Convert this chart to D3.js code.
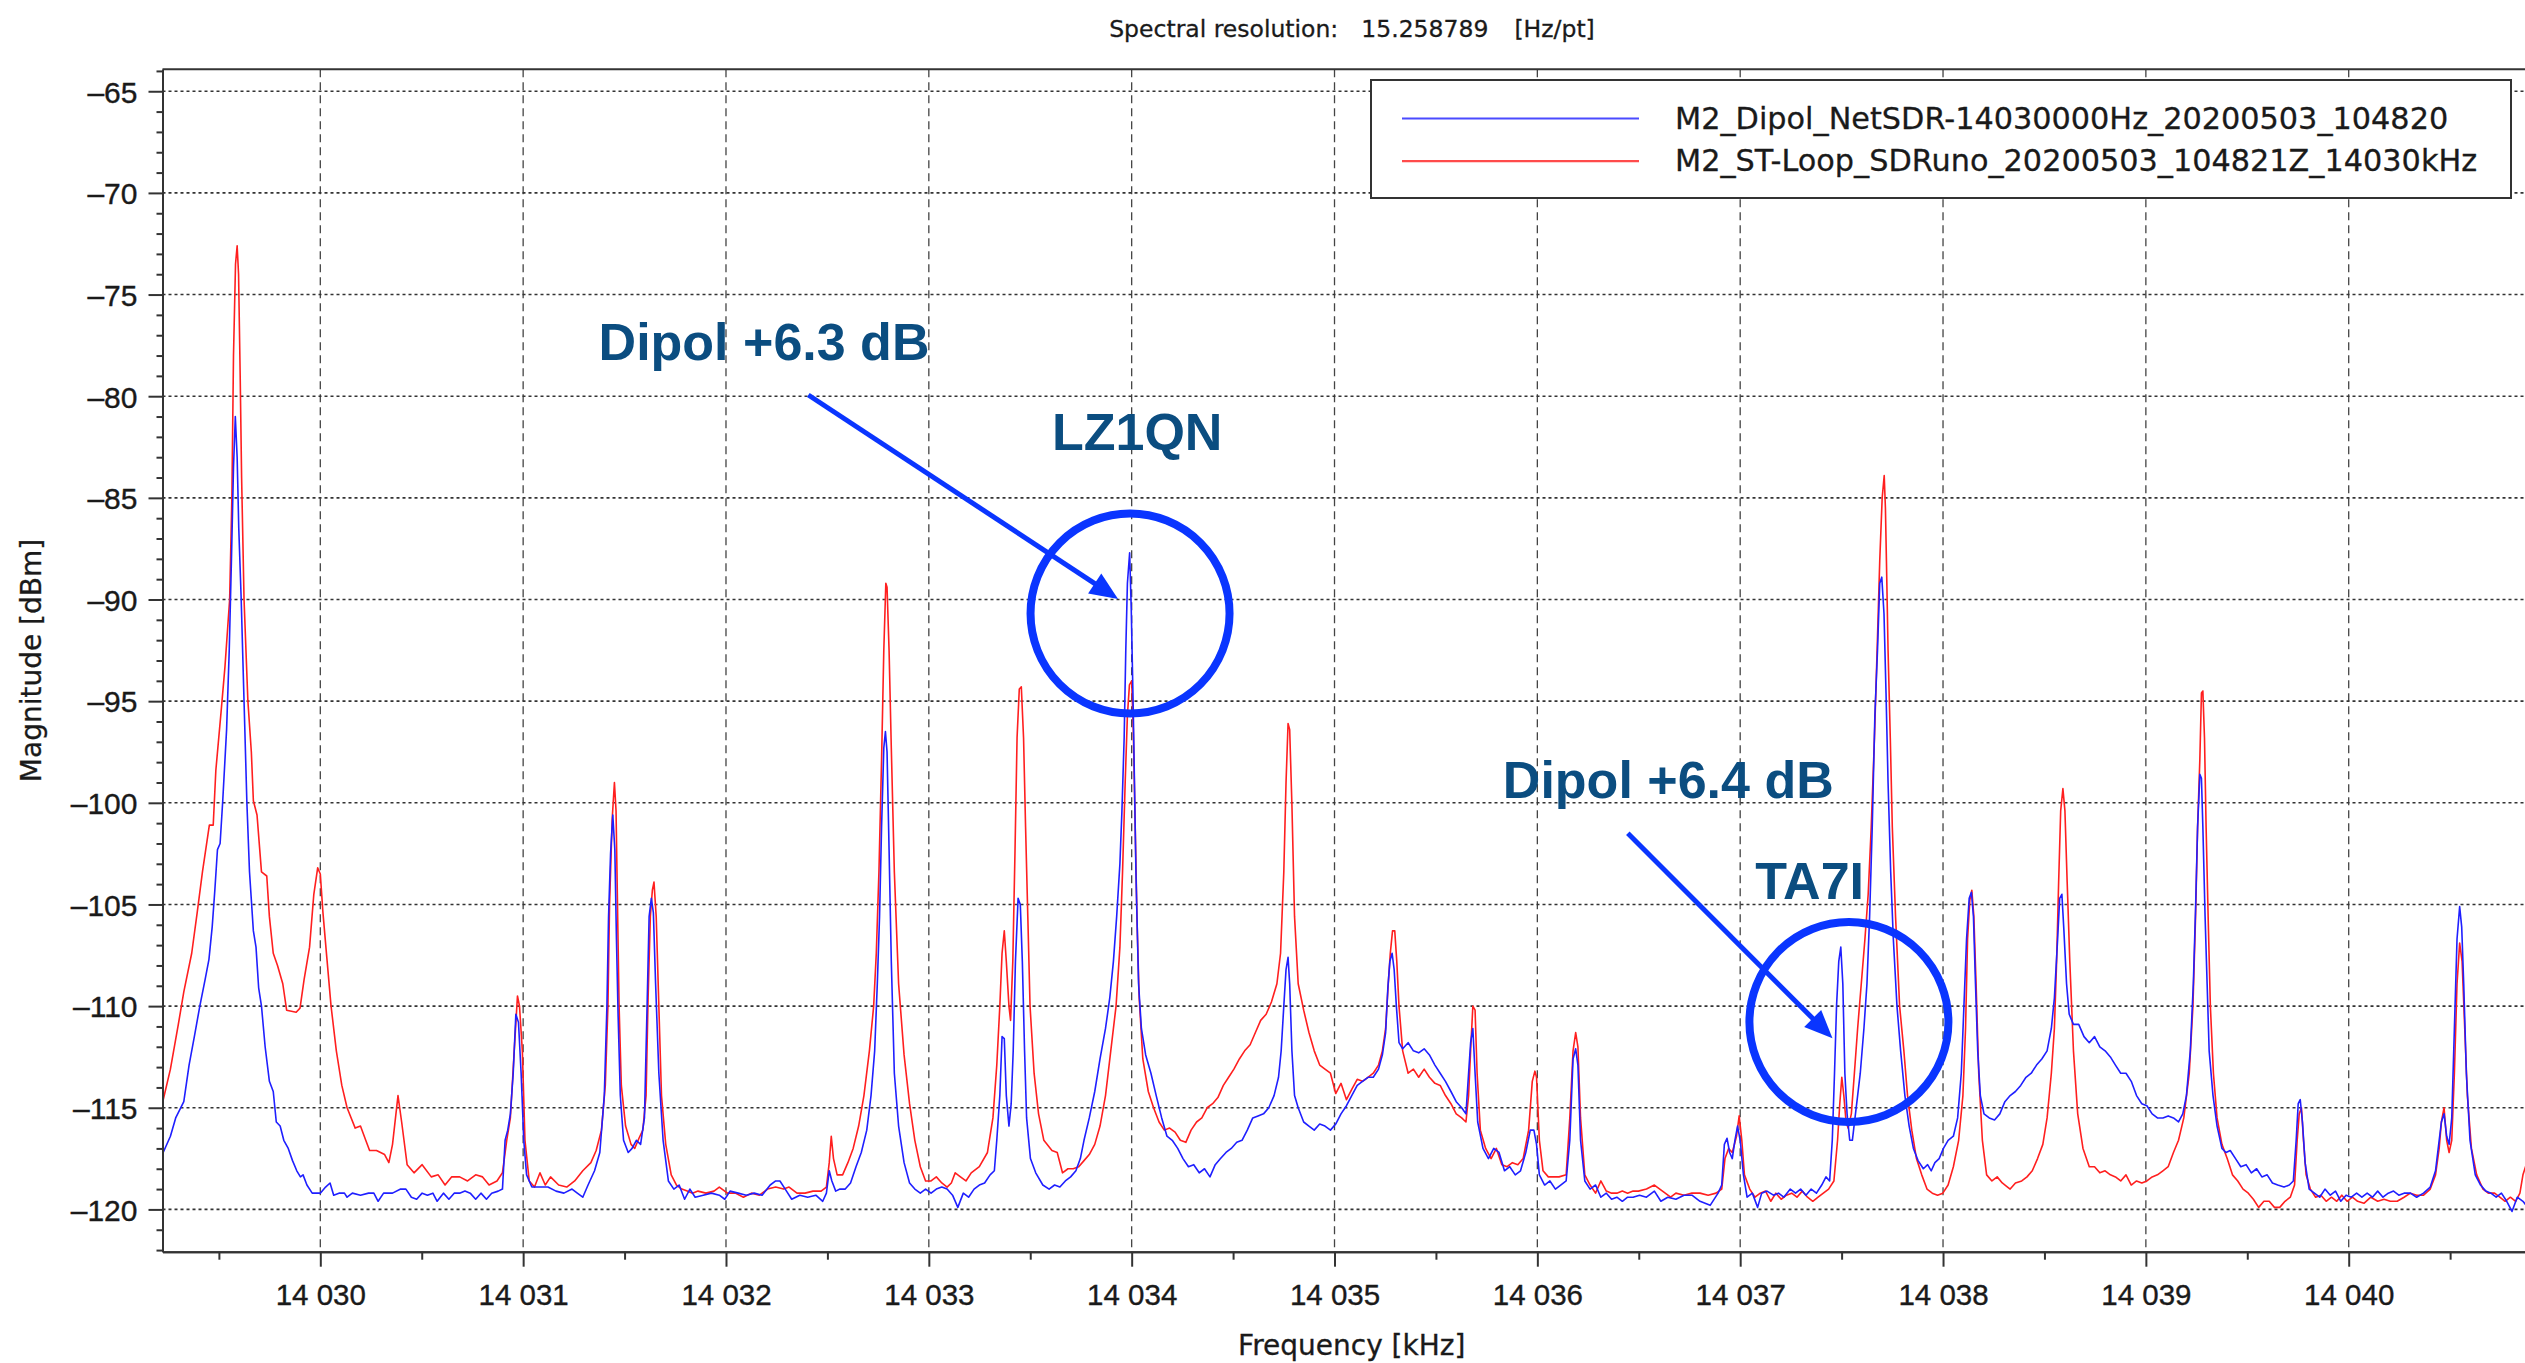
<!DOCTYPE html>
<html lang="en">
<head>
<meta charset="UTF-8">
<title>Spectrum comparison 14030 kHz</title>
<script src="https://d3js.org/d3.v7.min.js"></script>
<style>
  body { margin: 0; background: #fff; }
  svg { display: block; font-family: "DejaVu Sans", sans-serif; }
  .axis text { fill: #1a1a1a; font-size: 29.5px; stroke: #1a1a1a; stroke-width: 0.35; }
  .axis path, .axis line { stroke: #333; stroke-width: 2; }
  .grid-h { stroke: #333; stroke-width: 1.6; stroke-dasharray: 3 3; }
  .grid-v { stroke: #444; stroke-width: 1.3; stroke-dasharray: 8 5; }
  .trace { fill: none; stroke-width: 1.6; stroke-linejoin: round; }
  .label { fill: #1a1a1a; stroke: #1a1a1a; stroke-width: 0.3; }
  .note { font-family: "Liberation Sans", Arial, sans-serif; font-weight: bold; font-size: 52px; fill: #0b4d80; }
  .mark { stroke: #0a35ff; fill: none; }
</style>
</head>
<body>
<svg width="2525" height="1363"></svg>
<script>
// ---- data (frequency kHz, magnitude dBm) ----
const seriesNames = [
  "M2_Dipol_NetSDR-14030000Hz_20200503_104820",
  "M2_ST-Loop_SDRuno_20200503_104821Z_14030kHz"
];

const dipolTrace = [
  [14029.221,-117.3],[14029.261,-116.4],[14029.287,-115.5],[14029.327,-114.7],[14029.353,-112.9],[14029.379,-111.5],
  [14029.406,-110.0],[14029.432,-108.7],[14029.451,-107.7],[14029.467,-106.1],[14029.48,-104.3],[14029.493,-102.3],
  [14029.506,-102.0],[14029.519,-99.9],[14029.538,-96.4],[14029.551,-92.5],[14029.562,-88.0],[14029.572,-83.5],
  [14029.581,-81.0],[14029.59,-83.0],[14029.598,-86.5],[14029.61,-90.0],[14029.624,-95.0],[14029.638,-100.0],
  [14029.651,-103.4],[14029.67,-106.3],[14029.683,-107.1],[14029.696,-109.1],[14029.71,-110.0],[14029.728,-112.0],
  [14029.749,-113.7],[14029.768,-114.2],[14029.783,-115.7],[14029.802,-115.9],[14029.82,-116.6],[14029.842,-117.0],
  [14029.863,-117.6],[14029.884,-118.1],[14029.902,-118.4],[14029.915,-118.3],[14029.934,-118.8],[14029.96,-119.2],
  [14030.0,-119.2],[14030.026,-118.9],[14030.048,-118.7],[14030.066,-119.3],[14030.092,-119.2],[14030.119,-119.2],
  [14030.132,-119.4],[14030.158,-119.2],[14030.198,-119.3],[14030.238,-119.2],[14030.264,-119.2],[14030.285,-119.6],
  [14030.312,-119.2],[14030.356,-119.2],[14030.396,-119.0],[14030.422,-119.0],[14030.449,-119.4],[14030.475,-119.5],
  [14030.502,-119.2],[14030.528,-119.3],[14030.555,-119.2],[14030.576,-119.6],[14030.607,-119.2],[14030.634,-119.5],
  [14030.66,-119.2],[14030.687,-119.2],[14030.713,-119.1],[14030.739,-119.2],[14030.766,-119.5],[14030.792,-119.2],
  [14030.819,-119.5],[14030.845,-119.2],[14030.877,-119.1],[14030.898,-119.0],[14030.911,-116.6],[14030.924,-116.1],
  [14030.937,-115.3],[14030.951,-113.3],[14030.964,-110.4],[14030.977,-110.8],[14030.99,-113.3],[14031.003,-116.6],
  [14031.017,-118.3],[14031.043,-118.9],[14031.083,-118.9],[14031.122,-118.9],[14031.162,-119.1],[14031.201,-119.2],
  [14031.241,-119.0],[14031.267,-119.2],[14031.294,-119.4],[14031.32,-118.8],[14031.352,-118.1],[14031.378,-117.2],
  [14031.4,-114.4],[14031.413,-110.0],[14031.421,-105.6],[14031.431,-102.5],[14031.442,-100.6],[14031.452,-102.3],
  [14031.46,-106.7],[14031.468,-110.4],[14031.479,-114.4],[14031.495,-116.6],[14031.518,-117.2],[14031.537,-117.0],
  [14031.558,-116.6],[14031.579,-116.8],[14031.598,-115.5],[14031.611,-110.0],[14031.621,-105.6],[14031.632,-104.7],
  [14031.642,-105.4],[14031.653,-108.9],[14031.669,-113.3],[14031.69,-116.6],[14031.716,-118.6],[14031.743,-119.0],
  [14031.769,-118.8],[14031.796,-119.5],[14031.822,-119.0],[14031.848,-119.4],[14031.888,-119.3],[14031.928,-119.2],
  [14031.967,-119.3],[14031.994,-119.5],[14032.02,-119.1],[14032.06,-119.2],[14032.1,-119.3],[14032.139,-119.2],
  [14032.178,-119.3],[14032.218,-118.8],[14032.245,-118.6],[14032.266,-118.6],[14032.292,-119.0],[14032.324,-119.5],
  [14032.364,-119.3],[14032.403,-119.4],[14032.443,-119.3],[14032.477,-119.6],[14032.495,-119.2],[14032.509,-118.1],
  [14032.522,-118.6],[14032.541,-119.1],[14032.562,-119.0],[14032.588,-119.0],[14032.614,-118.7],[14032.641,-117.9],
  [14032.667,-117.2],[14032.694,-116.1],[14032.715,-114.4],[14032.733,-112.2],[14032.746,-108.9],[14032.757,-105.6],
  [14032.767,-101.2],[14032.778,-97.3],[14032.786,-96.5],[14032.794,-97.5],[14032.804,-102.3],[14032.815,-107.8],
  [14032.83,-113.3],[14032.851,-115.9],[14032.878,-117.7],[14032.905,-118.7],[14032.931,-119.0],[14032.958,-119.2],
  [14032.984,-119.0],[14033.011,-119.2],[14033.037,-119.0],[14033.064,-118.9],[14033.09,-119.0],[14033.117,-119.3],
  [14033.143,-119.9],[14033.17,-119.2],[14033.196,-119.4],[14033.223,-119.0],[14033.249,-118.8],[14033.275,-118.7],
  [14033.302,-118.3],[14033.323,-118.1],[14033.335,-116.6],[14033.35,-114.4],[14033.361,-111.5],[14033.372,-111.6],
  [14033.382,-114.4],[14033.395,-115.9],[14033.406,-114.8],[14033.416,-112.2],[14033.427,-107.8],[14033.44,-104.7],
  [14033.451,-105.0],[14033.461,-107.8],[14033.472,-112.2],[14033.482,-115.5],[14033.501,-117.5],[14033.527,-118.2],
  [14033.562,-118.8],[14033.593,-119.0],[14033.62,-118.8],[14033.646,-118.9],[14033.673,-118.6],[14033.699,-118.4],
  [14033.725,-118.1],[14033.747,-117.5],[14033.765,-116.6],[14033.791,-115.5],[14033.818,-114.2],[14033.844,-112.6],
  [14033.871,-111.1],[14033.892,-109.6],[14033.91,-107.8],[14033.926,-105.6],[14033.942,-103.0],[14033.952,-100.4],
  [14033.963,-96.8],[14033.971,-92.5],[14033.979,-89.2],[14033.99,-87.7],[14033.998,-90.5],[14034.008,-95.5],
  [14034.021,-103.4],[14034.034,-108.9],[14034.048,-111.1],[14034.069,-112.4],[14034.095,-113.3],[14034.121,-114.4],
  [14034.148,-115.5],[14034.174,-116.4],[14034.2,-116.6],[14034.227,-117.0],[14034.253,-117.5],[14034.28,-117.9],
  [14034.306,-117.8],[14034.333,-118.2],[14034.359,-118.0],[14034.386,-118.4],[14034.412,-117.8],[14034.438,-117.5],
  [14034.465,-117.2],[14034.491,-117.0],[14034.518,-116.7],[14034.544,-116.6],[14034.57,-116.1],[14034.597,-115.5],
  [14034.623,-115.4],[14034.65,-115.3],[14034.676,-115.0],[14034.702,-114.4],[14034.724,-113.5],[14034.737,-112.2],
  [14034.75,-110.0],[14034.761,-108.2],[14034.771,-107.6],[14034.779,-108.9],[14034.79,-112.2],[14034.803,-114.4],
  [14034.821,-115.0],[14034.848,-115.7],[14034.874,-115.9],[14034.9,-116.1],[14034.927,-115.8],[14034.953,-115.9],
  [14034.98,-116.1],[14035.006,-115.8],[14035.032,-115.3],[14035.059,-114.9],[14035.085,-114.4],[14035.112,-113.9],
  [14035.138,-113.7],[14035.165,-113.5],[14035.191,-113.5],[14035.217,-113.1],[14035.236,-112.4],[14035.252,-111.3],
  [14035.263,-109.1],[14035.273,-107.8],[14035.284,-107.4],[14035.294,-108.2],[14035.305,-110.0],[14035.318,-111.8],
  [14035.336,-112.1],[14035.363,-111.8],[14035.389,-112.2],[14035.415,-112.3],[14035.442,-112.1],[14035.468,-112.4],
  [14035.495,-112.9],[14035.521,-113.3],[14035.547,-113.7],[14035.574,-114.2],[14035.6,-114.7],[14035.627,-115.0],
  [14035.648,-115.3],[14035.661,-113.3],[14035.671,-111.8],[14035.682,-111.1],[14035.693,-113.3],[14035.706,-115.7],
  [14035.732,-117.0],[14035.759,-117.5],[14035.785,-117.0],[14035.811,-117.2],[14035.838,-118.1],[14035.864,-117.9],
  [14035.891,-118.3],[14035.917,-118.1],[14035.943,-117.2],[14035.965,-116.1],[14035.983,-116.1],[14035.996,-116.8],
  [14036.01,-118.3],[14036.036,-118.8],[14036.062,-118.6],[14036.089,-119.0],[14036.115,-118.8],[14036.142,-118.6],
  [14036.16,-116.6],[14036.176,-112.6],[14036.189,-112.1],[14036.2,-112.9],[14036.213,-116.6],[14036.234,-118.6],
  [14036.26,-119.0],[14036.287,-118.8],[14036.313,-119.4],[14036.34,-119.2],[14036.366,-119.5],[14036.392,-119.4],
  [14036.419,-119.6],[14036.445,-119.4],[14036.472,-119.4],[14036.504,-119.3],[14036.538,-119.4],[14036.577,-119.1],
  [14036.609,-119.6],[14036.643,-119.4],[14036.683,-119.5],[14036.723,-119.3],[14036.762,-119.3],[14036.802,-119.6],
  [14036.852,-119.8],[14036.891,-119.2],[14036.909,-118.8],[14036.922,-116.8],[14036.935,-116.5],[14036.948,-117.2],
  [14036.961,-117.5],[14036.974,-116.6],[14036.987,-115.9],[14037.0,-116.6],[14037.016,-118.3],[14037.034,-119.4],
  [14037.06,-119.2],[14037.086,-119.9],[14037.106,-119.2],[14037.132,-119.1],[14037.164,-119.3],[14037.189,-119.2],
  [14037.215,-119.4],[14037.247,-119.0],[14037.273,-119.2],[14037.298,-119.0],[14037.324,-119.3],[14037.35,-119.0],
  [14037.376,-119.2],[14037.402,-118.8],[14037.423,-118.4],[14037.441,-118.6],[14037.454,-116.6],[14037.465,-113.3],
  [14037.475,-110.0],[14037.486,-107.8],[14037.496,-107.1],[14037.506,-108.9],[14037.516,-113.3],[14037.527,-115.3],
  [14037.54,-116.6],[14037.553,-116.6],[14037.566,-115.5],[14037.579,-114.4],[14037.592,-113.3],[14037.61,-111.1],
  [14037.625,-108.9],[14037.638,-105.6],[14037.651,-101.2],[14037.664,-95.7],[14037.677,-92.5],[14037.688,-89.2],
  [14037.698,-88.9],[14037.709,-90.7],[14037.719,-94.6],[14037.729,-99.0],[14037.742,-103.4],[14037.755,-106.7],
  [14037.773,-110.0],[14037.791,-112.2],[14037.812,-114.4],[14037.833,-115.9],[14037.854,-117.0],[14037.877,-117.6],
  [14037.903,-118.0],[14037.924,-117.8],[14037.942,-118.1],[14037.96,-117.7],[14037.981,-117.5],[14038.002,-117.0],
  [14038.025,-116.6],[14038.051,-116.4],[14038.072,-115.5],[14038.09,-113.3],[14038.103,-110.0],[14038.116,-106.7],
  [14038.129,-104.7],[14038.14,-104.4],[14038.15,-105.6],[14038.16,-108.9],[14038.171,-112.2],[14038.184,-114.4],
  [14038.202,-115.3],[14038.228,-115.5],[14038.254,-115.6],[14038.28,-115.3],[14038.305,-114.7],[14038.331,-114.4],
  [14038.357,-114.2],[14038.383,-113.9],[14038.409,-113.5],[14038.435,-113.3],[14038.461,-112.9],[14038.487,-112.6],
  [14038.513,-112.2],[14038.534,-111.1],[14038.549,-109.6],[14038.565,-106.7],[14038.575,-104.7],[14038.586,-104.5],
  [14038.596,-106.3],[14038.609,-108.9],[14038.622,-110.4],[14038.643,-110.9],[14038.669,-110.9],[14038.695,-111.5],
  [14038.721,-111.8],[14038.747,-111.5],[14038.773,-112.0],[14038.799,-112.2],[14038.825,-112.5],[14038.85,-112.9],
  [14038.876,-113.3],[14038.902,-113.3],[14038.928,-113.7],[14038.954,-114.4],[14038.98,-114.8],[14039.005,-114.9],
  [14039.031,-115.3],[14039.057,-115.5],[14039.084,-115.5],[14039.11,-115.4],[14039.136,-115.5],[14039.161,-115.7],
  [14039.182,-115.3],[14039.2,-114.4],[14039.219,-112.2],[14039.234,-108.9],[14039.245,-105.2],[14039.255,-101.2],
  [14039.266,-98.6],[14039.274,-98.8],[14039.281,-101.2],[14039.292,-105.6],[14039.302,-108.9],[14039.312,-112.2],
  [14039.331,-114.4],[14039.351,-115.9],[14039.375,-117.0],[14039.395,-117.2],[14039.416,-117.1],[14039.442,-117.5],
  [14039.468,-117.9],[14039.494,-117.8],[14039.52,-118.2],[14039.546,-118.0],[14039.572,-118.4],[14039.598,-118.3],
  [14039.624,-118.7],[14039.65,-118.8],[14039.681,-118.9],[14039.707,-118.8],[14039.727,-118.6],[14039.741,-116.6],
  [14039.751,-114.8],[14039.761,-114.6],[14039.772,-115.7],[14039.785,-117.7],[14039.805,-119.0],[14039.831,-119.2],
  [14039.857,-119.4],[14039.883,-119.0],[14039.909,-119.3],[14039.935,-119.1],[14039.961,-119.6],[14039.987,-119.3],
  [14040.013,-119.4],[14040.039,-119.2],[14040.065,-119.4],[14040.091,-119.2],[14040.117,-119.4],[14040.143,-119.1],
  [14040.169,-119.4],[14040.195,-119.2],[14040.221,-119.1],[14040.247,-119.3],[14040.273,-119.2],[14040.304,-119.2],
  [14040.335,-119.4],[14040.369,-119.2],[14040.402,-118.9],[14040.428,-118.1],[14040.446,-116.6],[14040.457,-115.7],
  [14040.47,-115.3],[14040.483,-116.4],[14040.495,-116.8],[14040.508,-115.5],[14040.521,-111.1],[14040.534,-106.7],
  [14040.547,-105.1],[14040.557,-106.1],[14040.567,-108.9],[14040.58,-113.3],[14040.598,-116.6],[14040.624,-118.3],
  [14040.65,-118.8],[14040.676,-119.1],[14040.701,-119.2],[14040.727,-119.4],[14040.753,-119.2],[14040.779,-119.6],
  [14040.805,-120.1],[14040.831,-119.4],[14040.859,-119.6],[14040.875,-119.8]
];

const loopTrace = [
  [14029.221,-114.8],[14029.261,-113.1],[14029.30,-110.9],[14029.327,-109.3],[14029.366,-107.4],[14029.393,-105.4],
  [14029.419,-103.4],[14029.453,-101.1],[14029.472,-101.1],[14029.485,-98.4],[14029.511,-95.5],[14029.53,-93.3],
  [14029.553,-90.0],[14029.564,-85.0],[14029.572,-78.0],[14029.582,-73.5],[14029.59,-72.6],[14029.597,-74.0],
  [14029.605,-79.0],[14029.612,-84.0],[14029.624,-90.0],[14029.643,-95.0],[14029.66,-97.5],[14029.67,-99.9],
  [14029.688,-100.6],[14029.71,-103.4],[14029.736,-103.6],[14029.749,-105.6],[14029.768,-107.4],[14029.789,-108.0],
  [14029.815,-108.9],[14029.834,-110.2],[14029.881,-110.3],[14029.9,-110.1],[14029.92,-108.7],[14029.947,-107.1],
  [14029.968,-104.5],[14029.987,-103.2],[14030.0,-103.5],[14030.013,-105.4],[14030.032,-107.6],[14030.053,-110.0],
  [14030.079,-112.2],[14030.106,-113.9],[14030.132,-115.0],[14030.172,-116.0],[14030.198,-115.9],[14030.224,-116.6],
  [14030.243,-117.1],[14030.277,-117.1],[14030.317,-117.3],[14030.338,-117.7],[14030.356,-116.8],[14030.383,-114.4],
  [14030.401,-115.7],[14030.428,-117.8],[14030.462,-118.2],[14030.502,-117.8],[14030.547,-118.4],[14030.581,-118.3],
  [14030.615,-118.8],[14030.647,-118.4],[14030.687,-118.4],[14030.726,-118.6],[14030.766,-118.3],[14030.8,-118.4],
  [14030.832,-118.8],[14030.871,-118.6],[14030.898,-118.2],[14030.919,-116.6],[14030.937,-115.5],[14030.956,-112.2],
  [14030.972,-109.5],[14030.982,-110.0],[14030.996,-112.2],[14031.009,-116.6],[14031.03,-118.6],[14031.056,-118.9],
  [14031.083,-118.2],[14031.109,-118.8],[14031.135,-118.4],[14031.175,-118.8],[14031.215,-118.9],[14031.254,-118.6],
  [14031.294,-118.1],[14031.334,-117.7],[14031.36,-117.1],[14031.386,-116.1],[14031.405,-113.9],[14031.418,-110.0],
  [14031.426,-105.0],[14031.439,-100.8],[14031.45,-99.0],[14031.458,-100.4],[14031.466,-105.6],[14031.473,-110.0],
  [14031.484,-113.9],[14031.505,-115.9],[14031.532,-116.8],[14031.55,-117.0],[14031.571,-116.5],[14031.59,-116.1],
  [14031.606,-114.4],[14031.616,-109.6],[14031.627,-105.6],[14031.637,-104.3],[14031.645,-103.9],[14031.656,-105.6],
  [14031.669,-110.0],[14031.682,-114.4],[14031.703,-116.8],[14031.73,-118.3],[14031.756,-118.8],[14031.782,-119.0],
  [14031.809,-119.1],[14031.835,-119.2],[14031.862,-119.1],[14031.901,-119.2],[14031.941,-119.1],[14031.967,-118.9],
  [14032.007,-119.2],[14032.046,-119.2],[14032.086,-119.4],[14032.126,-119.2],[14032.165,-119.3],[14032.205,-119.0],
  [14032.245,-118.9],[14032.284,-119.0],[14032.311,-118.9],[14032.35,-119.2],[14032.39,-119.2],[14032.429,-119.1],
  [14032.469,-119.1],[14032.495,-118.9],[14032.509,-117.7],[14032.519,-116.4],[14032.53,-117.5],[14032.548,-118.3],
  [14032.575,-118.3],[14032.601,-117.7],[14032.627,-117.0],[14032.654,-115.9],[14032.68,-114.4],[14032.707,-112.2],
  [14032.728,-110.0],[14032.741,-107.4],[14032.754,-103.4],[14032.767,-97.9],[14032.778,-92.5],[14032.788,-89.2],
  [14032.794,-89.4],[14032.804,-92.5],[14032.815,-97.3],[14032.83,-103.4],[14032.851,-108.9],[14032.878,-112.4],
  [14032.905,-114.8],[14032.931,-116.6],[14032.958,-117.9],[14032.984,-118.6],[14033.011,-118.6],[14033.037,-118.4],
  [14033.064,-118.7],[14033.09,-118.9],[14033.111,-118.7],[14033.13,-118.2],[14033.156,-118.4],[14033.183,-118.6],
  [14033.209,-118.2],[14033.249,-117.9],[14033.289,-117.2],[14033.316,-115.5],[14033.335,-112.9],[14033.35,-110.0],
  [14033.361,-107.4],[14033.372,-106.3],[14033.382,-107.8],[14033.395,-110.0],[14033.403,-110.7],[14033.414,-107.8],
  [14033.425,-102.3],[14033.435,-96.8],[14033.446,-94.4],[14033.456,-94.3],[14033.467,-96.8],[14033.477,-101.2],
  [14033.488,-105.6],[14033.499,-110.0],[14033.519,-113.3],[14033.541,-115.3],[14033.567,-116.6],[14033.607,-117.1],
  [14033.633,-117.2],[14033.659,-118.2],[14033.686,-118.0],[14033.712,-118.0],[14033.739,-117.9],[14033.765,-117.6],
  [14033.791,-117.3],[14033.818,-116.8],[14033.844,-115.9],[14033.871,-114.4],[14033.897,-112.2],[14033.923,-110.0],
  [14033.942,-107.1],[14033.955,-103.4],[14033.968,-99.0],[14033.979,-95.7],[14033.989,-94.2],[14034.0,-94.0],
  [14034.008,-96.4],[14034.016,-100.4],[14034.026,-105.6],[14034.037,-109.6],[14034.055,-112.6],[14034.082,-114.2],
  [14034.108,-115.0],[14034.135,-115.7],[14034.161,-116.1],[14034.187,-116.0],[14034.214,-116.2],[14034.24,-116.6],
  [14034.267,-116.7],[14034.293,-116.1],[14034.32,-115.7],[14034.346,-115.5],[14034.372,-115.0],[14034.399,-114.8],
  [14034.425,-114.5],[14034.452,-113.9],[14034.478,-113.5],[14034.504,-113.1],[14034.531,-112.6],[14034.557,-112.2],
  [14034.584,-111.9],[14034.61,-111.3],[14034.636,-110.7],[14034.663,-110.4],[14034.689,-109.8],[14034.716,-108.9],
  [14034.734,-107.4],[14034.75,-103.4],[14034.761,-99.0],[14034.771,-96.1],[14034.779,-96.4],[14034.79,-100.1],
  [14034.803,-105.6],[14034.821,-108.9],[14034.848,-110.2],[14034.874,-111.3],[14034.9,-112.2],[14034.927,-112.9],
  [14034.953,-113.1],[14034.98,-113.3],[14035.006,-114.3],[14035.032,-113.8],[14035.059,-114.6],[14035.085,-114.1],
  [14035.112,-113.6],[14035.138,-113.7],[14035.165,-113.5],[14035.191,-113.3],[14035.217,-112.9],[14035.236,-112.2],
  [14035.252,-111.1],[14035.265,-108.9],[14035.275,-107.4],[14035.286,-106.3],[14035.297,-106.3],[14035.307,-107.8],
  [14035.318,-110.0],[14035.336,-112.2],[14035.363,-113.3],[14035.389,-113.1],[14035.415,-113.5],[14035.442,-113.1],
  [14035.468,-113.5],[14035.495,-113.8],[14035.521,-113.9],[14035.547,-114.4],[14035.574,-114.8],[14035.6,-115.3],
  [14035.627,-115.5],[14035.648,-115.7],[14035.661,-114.4],[14035.671,-112.2],[14035.682,-110.0],[14035.693,-110.2],
  [14035.703,-113.3],[14035.719,-116.1],[14035.745,-117.0],[14035.772,-117.5],[14035.798,-117.0],[14035.825,-117.8],
  [14035.851,-117.9],[14035.877,-117.7],[14035.904,-117.8],[14035.93,-117.5],[14035.957,-116.1],[14035.975,-113.7],
  [14035.988,-113.2],[14035.996,-113.5],[14036.01,-116.6],[14036.028,-118.1],[14036.054,-118.4],[14036.081,-118.4],
  [14036.107,-118.4],[14036.142,-118.3],[14036.16,-115.5],[14036.176,-112.2],[14036.189,-111.3],[14036.2,-112.0],
  [14036.213,-115.5],[14036.234,-118.3],[14036.26,-118.8],[14036.287,-119.2],[14036.313,-118.6],[14036.34,-119.1],
  [14036.366,-119.2],[14036.392,-119.2],[14036.419,-119.1],[14036.445,-119.2],[14036.472,-119.1],[14036.498,-119.1],
  [14036.538,-119.0],[14036.577,-118.8],[14036.617,-119.1],[14036.657,-119.4],[14036.683,-119.2],[14036.723,-119.3],
  [14036.762,-119.2],[14036.802,-119.2],[14036.842,-119.3],[14036.881,-119.2],[14036.909,-119.0],[14036.925,-117.5],
  [14036.943,-117.0],[14036.961,-117.2],[14036.982,-116.4],[14036.995,-115.4],[14037.008,-116.6],[14037.021,-118.3],
  [14037.047,-119.0],[14037.073,-119.4],[14037.099,-119.2],[14037.125,-119.1],[14037.151,-119.6],[14037.176,-119.2],
  [14037.202,-119.5],[14037.228,-119.3],[14037.254,-119.2],[14037.28,-119.4],[14037.306,-119.1],[14037.332,-119.4],
  [14037.358,-119.6],[14037.384,-119.4],[14037.41,-119.2],[14037.436,-119.0],[14037.462,-118.6],[14037.48,-116.6],
  [14037.491,-114.8],[14037.501,-113.5],[14037.511,-114.4],[14037.522,-115.7],[14037.532,-116.0],[14037.548,-115.3],
  [14037.563,-113.3],[14037.579,-111.1],[14037.597,-108.9],[14037.615,-106.7],[14037.631,-104.5],[14037.646,-101.2],
  [14037.662,-96.8],[14037.675,-92.5],[14037.688,-88.1],[14037.7,-85.0],[14037.71,-83.9],[14037.716,-85.5],
  [14037.721,-88.1],[14037.729,-92.5],[14037.74,-96.8],[14037.75,-101.2],[14037.766,-105.6],[14037.786,-110.0],
  [14037.807,-112.2],[14037.825,-114.4],[14037.846,-116.1],[14037.869,-117.5],[14037.895,-118.3],[14037.921,-119.0],
  [14037.947,-119.2],[14037.973,-119.3],[14037.999,-119.2],[14038.025,-118.8],[14038.051,-117.9],[14038.077,-116.6],
  [14038.098,-114.4],[14038.111,-111.1],[14038.121,-106.7],[14038.132,-104.8],[14038.142,-104.3],[14038.152,-105.6],
  [14038.163,-108.9],[14038.176,-113.3],[14038.194,-116.6],[14038.215,-118.3],[14038.241,-118.6],[14038.267,-118.4],
  [14038.292,-118.7],[14038.318,-118.9],[14038.331,-119.0],[14038.357,-118.7],[14038.388,-118.6],[14038.414,-118.4],
  [14038.44,-118.1],[14038.466,-117.5],[14038.492,-116.8],[14038.513,-115.5],[14038.534,-113.3],[14038.549,-111.1],
  [14038.56,-107.8],[14038.57,-103.9],[14038.58,-100.4],[14038.591,-99.3],[14038.601,-100.4],[14038.612,-103.9],
  [14038.625,-107.8],[14038.643,-112.2],[14038.664,-115.3],[14038.69,-117.0],[14038.721,-117.9],[14038.747,-117.9],
  [14038.773,-118.2],[14038.799,-118.1],[14038.825,-118.3],[14038.85,-118.4],[14038.876,-118.6],[14038.902,-118.3],
  [14038.928,-118.8],[14038.954,-118.6],[14038.98,-118.7],[14039.005,-118.6],[14039.031,-118.4],[14039.057,-118.3],
  [14039.084,-118.1],[14039.11,-117.9],[14039.136,-117.2],[14039.161,-116.6],[14039.187,-115.5],[14039.214,-113.3],
  [14039.232,-110.0],[14039.245,-105.6],[14039.255,-101.2],[14039.266,-97.9],[14039.274,-94.6],[14039.281,-94.5],
  [14039.289,-96.8],[14039.297,-101.2],[14039.307,-105.6],[14039.318,-110.0],[14039.333,-113.3],[14039.351,-115.5],
  [14039.375,-116.8],[14039.401,-117.5],[14039.427,-118.3],[14039.453,-118.6],[14039.479,-119.0],[14039.505,-119.2],
  [14039.53,-119.5],[14039.556,-119.9],[14039.582,-119.6],[14039.608,-119.6],[14039.634,-119.9],[14039.66,-119.9],
  [14039.686,-119.6],[14039.712,-119.4],[14039.733,-118.8],[14039.746,-116.6],[14039.756,-115.3],[14039.767,-115.0],
  [14039.777,-116.6],[14039.79,-118.3],[14039.811,-119.0],[14039.837,-119.4],[14039.863,-119.3],[14039.889,-119.6],
  [14039.915,-119.4],[14039.941,-119.6],[14039.966,-119.3],[14039.992,-119.6],[14040.018,-119.4],[14040.044,-119.6],
  [14040.075,-119.7],[14040.109,-119.4],[14040.143,-119.6],[14040.174,-119.5],[14040.205,-119.6],[14040.239,-119.6],
  [14040.273,-119.4],[14040.304,-119.2],[14040.335,-119.3],[14040.369,-119.3],[14040.402,-119.0],[14040.428,-118.3],
  [14040.446,-117.0],[14040.457,-115.7],[14040.47,-115.0],[14040.483,-116.6],[14040.495,-117.2],[14040.508,-116.6],
  [14040.521,-113.3],[14040.534,-108.9],[14040.547,-106.9],[14040.559,-107.8],[14040.572,-111.1],[14040.585,-114.4],
  [14040.605,-117.0],[14040.631,-118.3],[14040.662,-119.0],[14040.688,-119.2],[14040.719,-119.2],[14040.745,-119.4],
  [14040.771,-119.6],[14040.797,-119.4],[14040.823,-119.6],[14040.844,-119.2],[14040.859,-118.3],[14040.875,-117.8]
];

const magnitudeTicks = [-120, -115, -110, -105, -100, -95, -90, -85, -80, -75, -70, -65];
const freqTicks = [14030, 14031, 14032, 14033, 14034, 14035, 14036, 14037, 14038, 14039, 14040];
const freqMinorTicks = [14029.5, 14030.5, 14031.5, 14032.5, 14033.5, 14034.5, 14035.5, 14036.5, 14037.5, 14038.5, 14039.5, 14040.5];

// callouts placed in data units
const callouts = [
  { text: "Dipol +6.3 dB", f: 14031.372, v: -78.22 },
  { text: "LZ1QN",         f: 14033.607, v: -82.64 },
  { text: "Dipol +6.4 dB", f: 14035.830, v: -99.78 },
  { text: "TA7I",          f: 14037.074, v: -104.71 }
];
const rings = [ { f: 14033.992, v: -90.69 }, { f: 14037.536, v: -110.78 } ];
const arrows = [
  { from: [14032.406, -79.94], to: [14033.933, -89.97] },
  { from: [14036.446, -101.50], to: [14037.455, -111.58] }
];

// ---- layout ----
const plot = { left: 162.5, right: 2541, top: 69.3, bottom: 1251.7 };
const colors = ["#1f1fff", "#ff1f1f"];

const svg = d3.select("svg");
const x = d3.scaleLinear().domain([14029.222, 14040.948]).range([plot.left, plot.right]);
const y = d3.scaleLinear().domain([-122.08, -63.92]).range([plot.bottom, plot.top]);

svg.append("defs").append("clipPath").attr("id", "plot-clip")
  .append("rect")
  .attr("x", plot.left).attr("y", plot.top)
  .attr("width", plot.right - plot.left).attr("height", plot.bottom - plot.top);

// grid
svg.append("g").selectAll("line").data(freqTicks).join("line")
  .attr("class", "grid-v")
  .attr("x1", d => x(d)).attr("x2", d => x(d))
  .attr("y1", plot.top).attr("y2", plot.bottom);
svg.append("g").selectAll("line").data(magnitudeTicks).join("line")
  .attr("class", "grid-h")
  .attr("x1", plot.left).attr("x2", plot.right)
  .attr("y1", d => y(d)).attr("y2", d => y(d));

// traces (loop first, dipole on top)
const line = d3.line().x(d => x(d[0])).y(d => y(d[1]));
const traces = svg.append("g").attr("clip-path", "url(#plot-clip)");
traces.append("path").datum(loopTrace).attr("class", "trace").attr("stroke", colors[1]).attr("d", line);
traces.append("path").datum(dipolTrace).attr("class", "trace").attr("stroke", colors[0]).attr("d", line);

// axes
const freqFormat = d3.formatLocale({ decimal: ".", thousands: " ", grouping: [3], currency: ["", ""] }).format(",d");
const magFormat = d3.formatLocale({ decimal: ".", thousands: ",", grouping: [3], currency: ["", ""], minus: "\u2013" }).format("d");

const minorMag = d3.range(-122, -63).filter(v => v % 5 !== 0);
svg.append("g").attr("class", "axis").attr("transform", `translate(${plot.left},0)`)
  .call(d3.axisLeft(y).tickValues(minorMag).tickSize(6).tickSizeOuter(0).tickFormat(""));
svg.append("g").attr("class", "axis").attr("transform", `translate(${plot.left},0)`)
  .call(d3.axisLeft(y).tickValues(magnitudeTicks).tickSize(14).tickSizeOuter(0).tickPadding(11).tickFormat(magFormat))
  .selectAll("text").attr("dy", "0.36em").style("font-size", "30px");

svg.append("g").attr("class", "axis").attr("transform", `translate(0,${plot.bottom})`)
  .call(d3.axisBottom(x).tickValues(freqMinorTicks).tickSize(8).tickSizeOuter(0).tickFormat(""));
svg.append("g").attr("class", "axis").attr("transform", `translate(0,${plot.bottom})`)
  .call(d3.axisBottom(x).tickValues(freqTicks).tickSize(15).tickSizeOuter(0).tickPadding(17).tickFormat(freqFormat));

// top border
svg.append("line").attr("x1", plot.left).attr("x2", plot.right)
  .attr("y1", plot.top).attr("y2", plot.top)
  .attr("stroke", "#333").attr("stroke-width", 2);

// titles
const title = svg.append("text").attr("class", "label")
  .attr("x", 1352).attr("y", 37).attr("text-anchor", "middle").style("font-size", "23.5px");
title.append("tspan").text("Spectral resolution:");
title.append("tspan").attr("dx", 23).text("15.258789");
title.append("tspan").attr("dx", 26).text("[Hz/pt]");

svg.append("text").attr("class", "label")
  .attr("x", (plot.left + plot.right) / 2).attr("y", 1355)
  .attr("text-anchor", "middle").style("font-size", "28px")
  .text("Frequency [kHz]");

svg.append("text").attr("class", "label")
  .attr("transform", `translate(41,${(plot.top + plot.bottom) / 2}) rotate(-90)`)
  .attr("text-anchor", "middle").style("font-size", "28px")
  .text("Magnitude [dBm]");

// legend
const legend = svg.append("g").attr("transform", "translate(1371,80)");
legend.append("rect").attr("width", 1140).attr("height", 118)
  .attr("fill", "#fff").attr("stroke", "#333").attr("stroke-width", 2);
seriesNames.forEach((name, i) => {
  const ly = 38.5 + i * 42.7;
  legend.append("line").attr("x1", 31).attr("x2", 268).attr("y1", ly).attr("y2", ly)
    .attr("stroke", colors[i]).attr("stroke-width", 2.2).attr("opacity", 0.8);
  legend.append("text").attr("class", "label").attr("x", 304).attr("y", ly + 10)
    .style("font-size", "30.3px").text(name);
});

// annotations
const notes = svg.append("g");
rings.forEach(r => {
  notes.append("ellipse").attr("class", "mark")
    .attr("cx", x(r.f)).attr("cy", y(r.v)).attr("rx", 99.5).attr("ry", 100)
    .attr("stroke-width", 8);
});
arrows.forEach(a => {
  const x0 = x(a.from[0]), y0 = y(a.from[1]), x1 = x(a.to[0]), y1 = y(a.to[1]);
  const len = Math.hypot(x1 - x0, y1 - y0), ux = (x1 - x0) / len, uy = (y1 - y0) / len;
  const head = 28, half = 12;
  const bx = x1 - ux * head, by = y1 - uy * head;
  notes.append("line").attr("class", "mark")
    .attr("x1", x0).attr("y1", y0).attr("x2", bx + ux * 2).attr("y2", by + uy * 2)
    .attr("stroke-width", 5);
  notes.append("polygon").attr("fill", "#0a35ff")
    .attr("points", [[x1, y1], [bx - uy * half, by + ux * half], [bx + uy * half, by - ux * half]].map(p => p.join(",")).join(" "));
});
notes.selectAll("text.note").data(callouts).join("text")
  .attr("class", "note")
  .attr("x", d => x(d.f)).attr("y", d => y(d.v))
  .text(d => d.text);
</script>
</body>
</html>
